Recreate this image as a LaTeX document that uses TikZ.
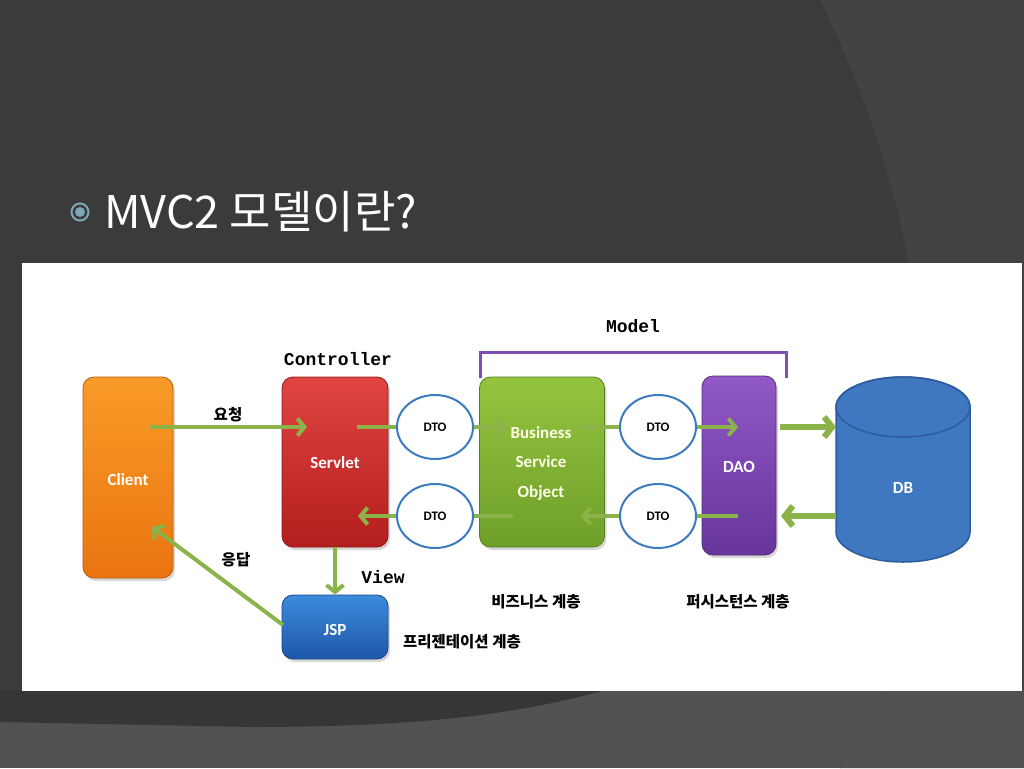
\documentclass[tikz,border=0pt]{standalone}
\usepackage{fontspec}
\setmainfont{Carlito}
\newfontfamily\kr{Noto Sans CJK KR}
\newfontfamily\mono{Liberation Mono}
\usetikzlibrary{arrows.meta,shapes.geometric,shadows}
\definecolor{bgdark}{HTML}{3B3B3B}
\definecolor{bgright}{HTML}{434343}
\definecolor{bgbottom}{HTML}{525252}
\definecolor{bgcurve}{HTML}{363636}
\definecolor{bulletc}{HTML}{7AA6B8}
\definecolor{garr}{HTML}{8BB34A}
\definecolor{dtoedge}{HTML}{3D7BC0}
\definecolor{modelc}{HTML}{7B52B3}
\definecolor{dbfill}{HTML}{3F77C1}
\definecolor{dbedge}{HTML}{2B5C9E}
\definecolor{orgtop}{HTML}{F99B28}
\definecolor{orgbot}{HTML}{EA7410}
\definecolor{redtop}{HTML}{E04540}
\definecolor{redbot}{HTML}{B31E1E}
\definecolor{blutop}{HTML}{3D8BDB}
\definecolor{blubot}{HTML}{1D57A8}
\definecolor{grntop}{HTML}{94C43E}
\definecolor{grnbot}{HTML}{6E9F2A}
\definecolor{vlttop}{HTML}{9158C6}
\definecolor{vltbot}{HTML}{67369A}
\tikzset{
  box/.style={rounded corners=11pt, text=white, line width=0.8pt,
    drop shadow={opacity=0.3, shadow xshift=2pt, shadow yshift=-3pt}},
  boxtxt/.style={text=white, font=\bfseries\fontsize{17}{20}\selectfont, inner sep=0pt},
  dto/.style={ellipse, draw=dtoedge, line width=2pt, fill=white, minimum width=76pt,
    minimum height=64pt, inner sep=0pt, font=\bfseries\fontsize{13}{15}\selectfont},
  arr/.style={draw=garr, line width=4pt, -{Straight Barb[length=7pt,width=17pt]}},
  seg/.style={draw=garr, line width=4pt},
  bigarr/.style={draw=garr, line width=6pt, -{Straight Barb[length=8pt,width=20pt]}},
  lbl/.style={font=\mono\bfseries\fontsize{18}{20}\selectfont, inner sep=0pt},
  klbl/.style={font=\kr\bfseries\fontsize{15.5}{18}\selectfont, inner sep=0pt},
}
\begin{document}
\begin{tikzpicture}[x=1pt,y=-1pt]
\useasboundingbox (0,0) rectangle (1024,768);
% background
\fill[bgdark] (0,0) rectangle (1024,768);
\fill[bgright] (820,0) .. controls (900,160) and (1000,480) .. (840,768) -- (1024,768) -- (1024,0) -- cycle;
\fill[bgbottom] (0,690) rectangle (1024,768);
\fill[bgcurve] (0,690) -- (605,690) .. controls (520,714) and (420,727) .. (250,727) -- (0,722) -- cycle;
\draw[black!70, line width=1pt] (889,690) .. controls (870,720) and (850,745) .. (840,768);
% title
\draw[bulletc, line width=2pt] (80,212) circle (8.5);
\fill[bulletc] (80,212) circle (5);
\node[anchor=base west, text=white, font=\kr\fontsize{45}{50}\selectfont, inner sep=0pt] (title) at (104,228) {MVC2 모델이란?};
% white panel
\fill[white] (22,263) rectangle (1022,691);
% boxes
\node[box, top color=orgtop, bottom color=orgbot, draw=orgbot!80!black, minimum width=90pt, minimum height=201pt] (client) at (128,477.5) {};
\node[boxtxt] (clientlbl) at (128,480) {Client};
\node[box, top color=redtop, bottom color=redbot, draw=redbot!80!black, minimum width=106pt, minimum height=170pt] (servlet) at (335,462) {};
\node[boxtxt] (servletlbl) at (335,463) {Servlet};
\node[box, top color=blutop, bottom color=blubot, draw=blubot!80!black, minimum width=106pt, minimum height=64pt] (jsp) at (335,627) {};
\node[boxtxt] (jsplbl) at (335,630) {JSP};
\node[box, top color=grntop, bottom color=grnbot, draw=grnbot!80!black, minimum width=125pt, minimum height=170pt] (bso) at (542,462) {};
\node[boxtxt, text=white!90!yellow, font=\bfseries\fontsize{17}{29.5}\selectfont, align=center] (bsolbl) at (541,463) {Business\\Service\\Object};
\node[box, top color=vlttop, bottom color=vltbot, draw=vltbot!80!black, minimum width=74pt, minimum height=179pt] (dao) at (739,465.5) {};
\node[boxtxt] (daolbl) at (739,467) {DAO};
% DB cylinder
\filldraw[fill=dbfill, draw=dbedge, line width=1.5pt] (836,407) -- (836,532) arc[start angle=180, end angle=0, x radius=67, y radius=30] -- (970,407) arc[start angle=0, end angle=-180, x radius=67, y radius=30] -- cycle;
\draw[dbedge, line width=1.5pt] (903,407) ellipse [x radius=67, y radius=30];
\node[boxtxt] (db) at (903,488) {DB};
% DTOs
\node[dto] (dto1) at (435,427) {DTO};
\node[dto] (dto2) at (435,516) {DTO};
\node[dto] (dto3) at (658,427) {DTO};
\node[dto] (dto4) at (658,516) {DTO};
% labels
\node[lbl] (ctrl) at (338,359) {Controller};
\node[lbl] (model) at (633,326) {Model};
\node[lbl] (view) at (383,577) {View};
\node[klbl] (req) at (228,415) {요청};
\node[klbl] (resp) at (236,560) {응답};
\node[klbl] (pres) at (462,642) {프리젠테이션 계층};
\node[klbl] (biz) at (536,602) {비즈니스 계층};
\node[klbl] (pers) at (738,602) {퍼시스턴스 계층};
% model bracket
\draw[modelc, line width=3pt] (480,378) -- (480,352) -- (786,352) -- (786,378);
% connector points
\coordinate (c1) at (150,427);
\coordinate (s1) at (307,427);
\coordinate (s2) at (357,427);
\coordinate (b1) at (507,427);
\coordinate (b2) at (580,427);
\coordinate (d1) at (738,427);
\coordinate (d2) at (780,427);
\coordinate (db1) at (836,427);
\coordinate (db2) at (836,516);
\coordinate (d3) at (781,516);
\coordinate (d4) at (738,516);
\coordinate (b3) at (581,516);
\coordinate (b4) at (513,516);
\coordinate (s3) at (358,516);
\coordinate (c2) at (152,527);
\coordinate (j1) at (283,625);
% connectors
\draw[arr] (c1) -- (s1);
\draw[seg] (s2) -- (dto1.west);
\draw[arr] (dto1.east) -- (b1);
\draw[seg] (b2) -- (dto3.west);
\draw[arr] (dto3.east) -- (d1);
\draw[bigarr] (d2) -- (db1);
\draw[bigarr] (db2) -- (d3);
\draw[seg] (d4) -- (dto4.east);
\draw[arr] (dto4.west) -- (b3);
\draw[seg] (b4) -- (dto2.east);
\draw[arr] (dto2.west) -- (s3);
\draw[arr] (servlet.south) -- (jsp.north);
\draw[arr] (j1) -- (c2);
\end{tikzpicture}
\end{document}
